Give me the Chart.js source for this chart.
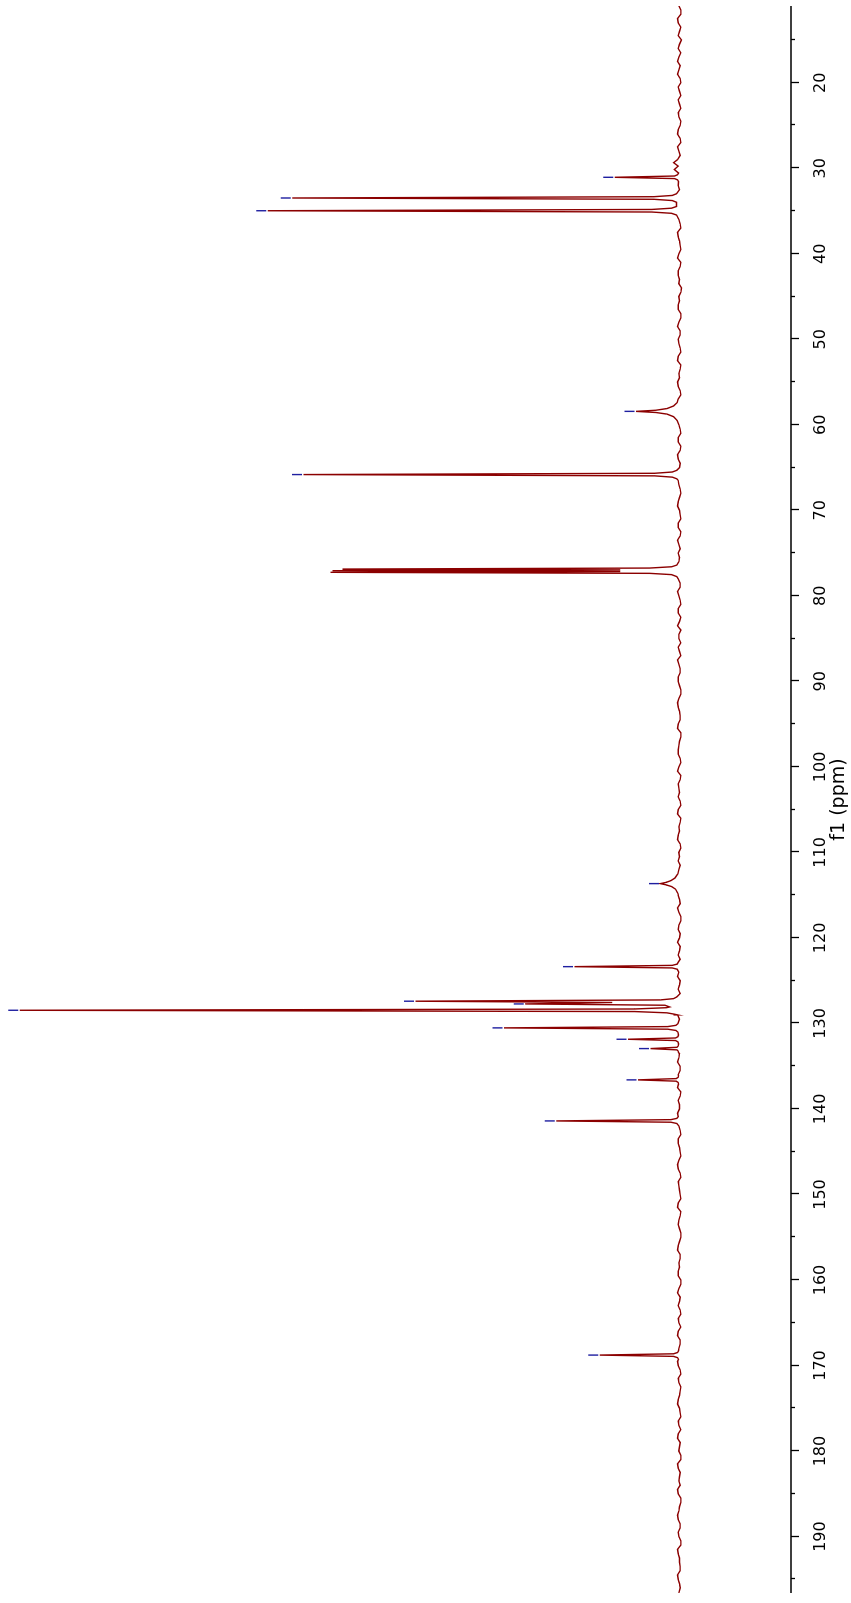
<!DOCTYPE html>
<html>
<head>
<meta charset="utf-8">
<title>13C NMR spectrum</title>
<script src="https://cdn.jsdelivr.net/npm/chart.js@4.4.0/dist/chart.umd.min.js"></script>
<style>
  html, body { margin: 0; padding: 0; background: #fff; overflow: hidden; }
  /* the plot is drawn as a normal spectrum and turned a quarter turn to the left */
  #turn {
    position: absolute; left: 0; top: 0;
    width: 1603px; height: 851px;
    transform-origin: 0 0;
    transform: translate(0, 1603px) rotate(-90deg);
  }
</style>
</head>
<body>
<div id="turn"><canvas id="nmr" width="1603" height="851"></canvas></div>
<script>
// chemical shift axis (ppm)
const ppmMin = 11.03;
const ppmMax = 196.6;
const labelTicks = [20, 30, 40, 50, 60, 70, 80, 90, 100, 110, 120, 130, 140, 150, 160, 170, 180, 190];
const minorTicks = [15, 25, 35, 45, 55, 65, 75, 85, 95, 105, 115, 125, 135, 145, 155, 165, 175, 185, 195];

// baseline (noise), whole ppm
const baselinePpm = [
  11, 12, 13, 14, 15, 16, 17, 18, 19, 20,
  21, 22, 23, 24, 25, 26, 27, 28,
  29, 29.35, 29.75, 30.15, 32, 36, 37, 38, 39, 40,
  41, 42, 43, 44, 45, 46, 47, 48, 49, 50,
  51, 52, 53, 54, 55, 56, 57, 60, 61, 62,
  63, 64, 65, 67, 68, 69, 70, 71, 72, 73,
  74, 75, 76, 78, 79, 80, 81, 82, 83, 84,
  85, 86, 87, 88, 89, 90, 91, 92, 93, 94,
  95, 96, 97, 98, 99, 100, 101, 102, 103, 104,
  105, 106, 107, 108, 109, 110, 111, 112,
  115, 116, 117, 118, 119, 120, 121, 122, 124, 125,
  126, 129, 134, 135, 136, 138, 139, 140, 142, 143,
  144, 145, 146, 147, 148, 149, 150, 151, 152, 153,
  154, 155, 156, 157, 158, 159, 160, 161, 162, 163,
  164, 165, 166, 167, 168, 170, 171, 172, 173, 174,
  175, 176, 177, 178, 179, 180, 181, 182, 183, 184,
  185, 186, 187, 188, 189, 190, 191, 192, 193, 194,
  195, 196, 196.6
];
const baselineLevel = [
  0.1, -0.2, 0.2, 0.0, -0.3, 0.2, 0.1, -0.1, 0.3, -0.2,
  0.0, 0.2, -0.2, 0.1, -0.1, 0.3, -0.2, 0.1,
  0.3, 0.9, 0.2, 0.8, 0.2, 0.1, -0.2, 0.2, -0.1, 0.1,
  -0.2, 0.2, 0.0, -0.3, 0.1, 0.2, -0.2, 0.1, -0.1, 0.2,
  -0.1, 0.2, -0.2, 0.1, 0.3, -0.1, 0.2, 0.1, -0.2, 0.2,
  -0.1, 0.2, 0.0, 0.1, -0.2, 0.2, 0.0, -0.2, 0.2, -0.1,
  0.1, 0.2, 0.1, 0.2, -0.1, 0.1, -0.2, 0.2, 0.0, -0.2,
  0.1, 0.2, -0.2, 0.1, -0.1, 0.2, -0.2, 0.1, 0.2, -0.1,
  0.2, -0.2, 0.0, 0.2, -0.1, 0.1, -0.2, 0.2, 0.0, -0.1,
  0.2, -0.2, 0.1, 0.2, -0.1, 0.1, 0.2, 0.1,
  0.2, -0.1, 0.1, -0.2, 0.2, 0.0, -0.1, 0.2, 0.1, -0.1,
  0.2, 0.3, 0.1, -0.1, 0.2, -0.2, 0.2, 0.0, 0.1, -0.2,
  0.2, -0.1, 0.1, 0.2, -0.2, 0.1, -0.1, 0.2, -0.2, 0.1,
  0.0, -0.2, 0.2, -0.1, 0.1, 0.2, -0.2, 0.1, -0.1, 0.2,
  -0.2, 0.1, 0.2, -0.1, 0.1, 0.2, -0.2, 0.1, -0.1, 0.2,
  0.0, -0.2, 0.1, 0.2, -0.1, 0.1, -0.2, 0.2, 0.0, -0.1,
  0.2, -0.2, 0.1, 0.2, -0.1, 0.1, -0.2, 0.2, 0.0, -0.1,
  0.2, -0.1, 0.1
];

// baseline noise between the whole-ppm points
const noisePpm = [
  11.5, 12.5, 13.5, 14.5, 15.5, 16.5, 17.5, 18.5, 19.5, 20.5,
  21.5, 22.5, 23.5, 24.5, 25.5, 26.5, 27.5, 28.5,
  32.5, 36.5, 37.5, 38.5, 39.5,
  40.5, 41.5, 42.5, 43.5, 44.5, 45.5, 46.5, 47.5, 48.5, 49.5,
  50.5, 51.5, 52.5, 53.5, 54.5, 55.5, 56.5,
  60.5, 61.5, 62.5, 63.5, 64.5,
  66.5, 67.5, 68.5, 69.5, 70.5, 71.5, 72.5, 73.5, 74.5, 75.5,
  78.5, 79.5, 80.5, 81.5, 82.5, 83.5, 84.5, 85.5, 86.5, 87.5, 88.5, 89.5,
  90.5, 91.5, 92.5, 93.5, 94.5, 95.5, 96.5, 97.5, 98.5, 99.5,
  100.5, 101.5, 102.5, 103.5, 104.5, 105.5, 106.5, 107.5, 108.5, 109.5, 110.5, 111.5,
  115.5, 116.5, 117.5, 118.5, 119.5, 120.5, 121.5, 122.5,
  124.5, 125.5, 126.5,
  129.5,
  133.5, 134.5, 135.5,
  137.5, 138.5, 139.5, 140.5,
  142.5, 143.5, 144.5, 145.5, 146.5, 147.5, 148.5, 149.5, 150.5, 151.5,
  152.5, 153.5, 154.5, 155.5, 156.5, 157.5, 158.5, 159.5, 160.5, 161.5,
  162.5, 163.5, 164.5, 165.5, 166.5, 167.5,
  169.5, 170.5, 171.5, 172.5, 173.5, 174.5, 175.5, 176.5, 177.5, 178.5,
  179.5, 180.5, 181.5, 182.5, 183.5, 184.5, 185.5, 186.5, 187.5, 188.5,
  189.5, 190.5, 191.5, 192.5, 193.5, 194.5, 195.5
];
const noiseLevel = [
  -0.2, 0.3, -0.2, 0.2, 0.0, -0.2, 0.3, 0.1, -0.1, 0.2,
  -0.2, 0.0, 0.2, -0.2, 0.2, -0.1, 0.3, -0.1,
  0.0, -0.1, 0.3, 0.0, -0.2,
  0.3, -0.1, 0.2, 0.1, -0.2, 0.0, 0.2, -0.2, 0.3, -0.1,
  0.1, -0.2, 0.3, -0.1, 0.0, 0.2, -0.2,
  -0.1, 0.2, -0.2, 0.3, -0.1,
  0.2, -0.1, 0.0, 0.3, -0.1, 0.2, -0.2, 0.3, -0.1, 0.0,
  -0.1, 0.3, -0.1, 0.2, -0.2, 0.3, 0.1, -0.2, 0.0, 0.3, -0.1, 0.2,
  0.0, -0.2, 0.3, 0.0, -0.1, 0.3, -0.2, 0.1, 0.2, -0.2,
  0.3, -0.1, 0.1, 0.2, -0.2, 0.3, -0.1, 0.0, 0.3, -0.2, 0.0, -0.1,
  0.0, 0.3, -0.2, 0.1, -0.1, 0.3, 0.0, -0.1,
  0.3, 0.0, -0.1,
  0.0,
  0.0, 0.3, -0.1,
  0.3, -0.1, 0.0, 0.3,
  -0.1, 0.2, 0.0, -0.2, 0.3, -0.1, 0.2, 0.0, -0.2, 0.3,
  -0.1, 0.2, -0.2, 0.0, 0.3, -0.1, 0.0, 0.2, -0.2, 0.3,
  0.0, -0.1, 0.2, -0.2, 0.3, -0.1,
  0.3, -0.1, 0.2, -0.2, 0.0, 0.3, -0.1, 0.2, -0.2, 0.3,
  0.0, -0.2, 0.3, -0.1, 0.1, 0.3, -0.2, 0.0, 0.3, -0.1,
  0.2, -0.2, 0.3, 0.0, -0.1, 0.3, 0.0
];

// points of the signal lines themselves
const peakShapePpm = [
  30.56, 30.76, 30.91, 31.06, 31.21, 31.36, 31.56,
  32.98, 33.18, 33.33, 33.48, 33.63, 33.78, 33.98,
  34.47, 34.67, 34.82, 34.97, 35.12, 35.27, 35.47,
  57.4, 57.8, 58.1, 58.3, 58.43, 58.56, 58.75, 59.05, 59.5,
  65.32, 65.52, 65.67, 65.82, 65.97, 66.12, 66.32,
  76.4, 76.6, 76.75, 76.87, 76.965, 77.06, 77.155, 77.25, 77.37, 77.52, 77.75,
  112.5, 113.0, 113.3, 113.5, 113.65, 113.8, 114.0, 114.3, 114.8,
  122.86, 123.06, 123.21, 123.36, 123.51, 123.66, 123.86,
  126.9, 127.1, 127.25, 127.40, 127.55, 127.72, 127.87, 128.07, 128.16, 128.31, 128.46, 128.61, 128.76, 128.9,
  130.02, 130.22, 130.37, 130.52, 130.67, 130.82, 131.02,
  131.35, 131.55, 131.7, 131.85, 132.0, 132.15, 132.35,
  132.44, 132.64, 132.79, 132.94, 133.09, 133.24, 133.44,
  136.1, 136.3, 136.45, 136.6, 136.75, 136.9, 137.1,
  140.9, 141.1, 141.25, 141.4, 141.55, 141.7, 141.9,
  168.28, 168.48, 168.63, 168.78, 168.93, 169.08, 169.28
];
const peakShapeLevel = [
  0.15, 0.3, 0.75, 9.8, 0.75, 0.3, 0.15,
  0.45, 1.1, 3.9, 58.7, 3.9, 1.1, 0.45,
  0.45, 1.2, 4.2, 62.4, 4.2, 1.2, 0.45,
  0.35, 0.9, 1.9, 3.6, 6.6, 3.6, 1.9, 0.9, 0.35,
  0.4, 1.1, 3.8, 57.0, 3.8, 1.1, 0.4,
  0.4, 1.2, 4.5, 51.1, 9.0, 52.6, 9.0, 52.9, 4.5, 1.2, 0.4,
  0.25, 0.7, 1.3, 2.0, 2.9, 2.0, 1.2, 0.6, 0.25,
  0.2, 0.35, 1.1, 15.9, 1.1, 0.35, 0.2,
  0.4, 0.9, 2.9, 40.0, 10.2, 23.4, 2.2, 1.5, 2.0, 6.8, 100, 6.8, 1.9, 0.9,
  0.25, 0.55, 1.8, 26.6, 1.8, 0.55, 0.25,
  0.15, 0.25, 0.6, 7.8, 0.6, 0.25, 0.15,
  0.15, 0.2, 0.4, 4.4, 0.4, 0.2, 0.15,
  0.15, 0.2, 0.5, 6.3, 0.5, 0.2, 0.15,
  0.2, 0.4, 1.3, 18.7, 1.3, 0.4, 0.2,
  0.15, 0.3, 0.9, 12.1, 0.9, 0.3, 0.15
];

// picked peaks (blue marks)
const pickedPpm = [31.06, 33.48, 34.97, 58.43, 65.82, 113.65, 123.36, 127.40, 127.72, 128.46, 130.52, 131.85, 132.94, 136.60, 141.40, 168.78];
const pickedLevel = [9.8, 58.7, 62.4, 6.6, 57.0, 2.9, 15.9, 40.0, 23.4, 100, 26.6, 7.8, 4.4, 6.3, 18.7, 12.1];

const toPoints = (ppm, level) => ppm.map((p, i) => ({ x: p, y: level[i] }));
const spectrum = toPoints(baselinePpm, baselineLevel)
  .concat(toPoints(noisePpm, noiseLevel))
  .concat(toPoints(peakShapePpm, peakShapeLevel))
  .sort((a, b) => a.x - b.x);

// axis line, tick marks and peak-pick marks
const nmrDecor = {
  id: 'nmrDecor',
  afterDatasetsDraw(chart) {
    const { ctx, chartArea, scales: { x, y } } = chart;
    const base = chartArea.bottom;
    ctx.save();
    ctx.strokeStyle = '#000';
    ctx.lineWidth = 1.3;
    ctx.beginPath();
    ctx.moveTo(chartArea.left, base);
    ctx.lineTo(chartArea.right, base);
    labelTicks.forEach(v => {
      const px = Math.round(x.getPixelForValue(v)) + 0.5;
      ctx.moveTo(px, base);
      ctx.lineTo(px, base + 8);
    });
    minorTicks.forEach(v => {
      const px = Math.round(x.getPixelForValue(v)) + 0.5;
      ctx.moveTo(px, base);
      ctx.lineTo(px, base + 4);
    });
    ctx.stroke();

    ctx.strokeStyle = '#1f1fa0';
    ctx.lineWidth = 1.4;
    ctx.beginPath();
    pickedPpm.forEach((p, i) => {
      const px = x.getPixelForValue(p);
      const top = y.getPixelForValue(pickedLevel[i]);
      ctx.moveTo(px, top - 1.5);
      ctx.lineTo(px, top - 11.5);
    });
    ctx.stroke();
    ctx.restore();
  }
};

Chart.defaults.font.family = '"DejaVu Sans", sans-serif';
Chart.defaults.color = '#000';

new Chart(document.getElementById('nmr'), {
  type: 'line',
  data: {
    datasets: [{
      label: '13C',
      data: spectrum,
      borderColor: '#8b0000',
      borderWidth: 1.4,
      pointRadius: 0,
      tension: 0,
      fill: false
    }]
  },
  options: {
    responsive: false,
    animation: false,
    devicePixelRatio: 1,
    layout: { padding: { left: 10, right: 6, top: 0, bottom: 0 } },
    plugins: { legend: { display: false }, tooltip: { enabled: false } },
    scales: {
      x: {
        type: 'linear',
        position: 'bottom',
        reverse: true,
        min: ppmMin,
        max: ppmMax,
        afterBuildTicks: s => { s.ticks = labelTicks.map(v => ({ value: v })); },
        afterFit: s => { s.height = 60; },
        grid: { display: false, drawTicks: false },
        border: { display: false },
        ticks: {
          autoSkip: false,
          maxRotation: 0,
          padding: 20,
          font: { size: 16 },
          color: '#000'
        },
        title: {
          display: true,
          text: 'f1 (ppm)',
          font: { size: 19 },
          color: '#000',
          padding: { top: 0, bottom: 1 }
        }
      },
      y: {
        display: false,
        min: -16.9,
        max: 103.0
      }
    }
  },
  plugins: [nmrDecor]
});
</script>
</body>
</html>
